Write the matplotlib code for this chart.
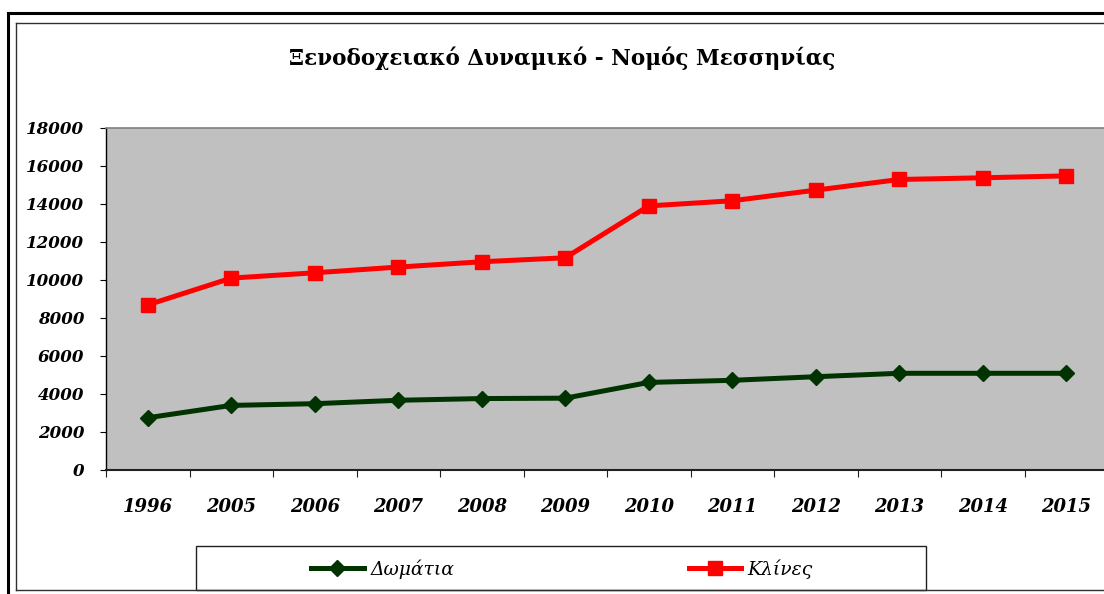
import matplotlib
matplotlib.use("Agg")
import matplotlib.pyplot as plt
from matplotlib.lines import Line2D
from matplotlib.patches import Rectangle
from matplotlib.font_manager import FontProperties
import numpy as np

years = ["1996", "2005", "2006", "2007", "2008", "2009",
         "2010", "2011", "2012", "2013", "2014", "2015"]
rooms = [2750, 3400, 3490, 3670, 3760, 3780, 4610, 4720, 4910, 5090, 5090, 5090]
beds = [8690, 10100, 10380, 10680, 10960, 11170, 13900, 14170, 14730, 15290, 15380, 15480]
title = "Ξενοδοχειακό Δυναμικό - Νομός Μεσσηνίας"
yticks = list(range(0, 18001, 2000))

W, H = 1104, 594
fig = plt.figure(figsize=(W / 100, H / 100), dpi=100)
fig.patch.set_facecolor("white")

def fx(px):
    return px / W

def fy(py):
    return 1 - py / H

# frames
fig.add_artist(Line2D([fx(8), fx(8)], [fy(13), fy(600)], color="black", lw=2.2))
fig.add_artist(Line2D([fx(8), fx(1110)], [fy(13), fy(13)], color="black", lw=2.2))
fig.add_artist(Line2D([fx(16), fx(16)], [fy(23), fy(590)], color="#303030", lw=1.0))
fig.add_artist(Line2D([fx(16), fx(1110)], [fy(23), fy(23)], color="#303030", lw=1.0))
fig.add_artist(Line2D([fx(16), fx(1110)], [fy(590), fy(590)], color="#303030", lw=1.0))

ax = fig.add_axes([fx(106), fy(470), fx(1108) - fx(106), fy(128) - fy(470)])
ax.set_facecolor("#C0C0C0")
x = np.arange(len(years))
ax.plot(x, rooms, color="#003300", lw=3.6, marker="D", markersize=8,
        label="Δωμάτια", zorder=3)
ax.plot(x, beds, color="#FF0000", lw=3.6, marker="s", markersize=10,
        label="Κλίνες", zorder=3)

ax.set_xlim(-0.5, len(years) - 0.5)
ax.set_ylim(0, 18000)
ax.set_yticks(yticks)
ax.set_yticklabels([str(v) for v in yticks])
ax.set_xticks(x)
ax.set_xticklabels(years)
ax.set_xticks(np.arange(-0.5, len(years), 1.0), minor=True)

tickfont = dict(family="DejaVu Serif", weight="bold", style="italic")
for lab in ax.get_yticklabels():
    lab.set_fontproperties(FontProperties(size=12, **tickfont))
for lab in ax.get_xticklabels():
    lab.set_fontproperties(FontProperties(size=13, **tickfont))

ax.tick_params(axis="y", which="major", length=4.5, width=0.8, color="black", pad=11)
ax.tick_params(axis="x", which="major", length=0, pad=20)
ax.tick_params(axis="x", which="minor", length=5, width=0.8, color="#202020")

ax.spines["right"].set_visible(False)
ax.spines["top"].set_color("#808080")
ax.spines["top"].set_linewidth(1.2)
ax.spines["left"].set_color("black")
ax.spines["left"].set_linewidth(1.0)
ax.spines["bottom"].set_color("#202020")
ax.spines["bottom"].set_linewidth(1.5)

fig.text(fx(562), fy(58), title, ha="center", va="center",
         family="DejaVu Serif", weight="bold", fontsize=15.5)

# legend box
fig.add_artist(Rectangle((fx(196), fy(590)), fx(926) - fx(196), fy(546) - fy(590),
                         transform=fig.transFigure, facecolor="white",
                         edgecolor="#202020", lw=1.0))
handles, labels = ax.get_legend_handles_labels()
leg = fig.legend(handles, labels, loc="center", bbox_to_anchor=(fx(562), fy(569)),
                 ncol=2, frameon=False,
                 prop=dict(family="DejaVu Serif", style="italic", size=13.5),
                 handlelength=2.8, handletextpad=0.35, columnspacing=12.5)

fig.savefig("out.png", dpi=100)
